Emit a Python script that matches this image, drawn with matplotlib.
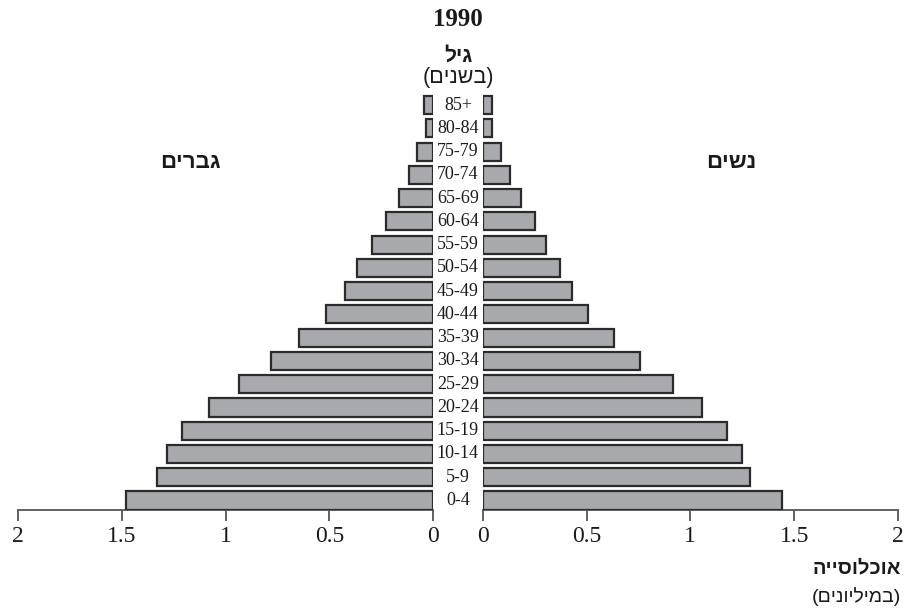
import matplotlib
matplotlib.use("Agg")
import matplotlib.pyplot as plt

BAR_FILL = "#a8a9ad"
BAR_EDGE = "#2b2b2b"
INK = "#1a1a1a"
SERIF = ["Liberation Serif", "DejaVu Serif"]
HEB = ["Liberation Sans", "DejaVu Sans"]

# data (millions), youngest first
ages = ["0-4", "5-9", "10-14", "15-19", "20-24", "25-29", "30-34", "35-39", "40-44",
        "45-49", "50-54", "55-59", "60-64", "65-69", "70-74", "75-79", "80-84", "85+"]
men = [1.48, 1.33, 1.28, 1.21, 1.08, 0.935, 0.78, 0.645, 0.515,
       0.424, 0.366, 0.295, 0.228, 0.165, 0.114, 0.076, 0.034, 0.045]
women = [1.439, 1.286, 1.248, 1.177, 1.055, 0.916, 0.759, 0.633, 0.505,
         0.429, 0.373, 0.305, 0.254, 0.185, 0.132, 0.087, 0.043, 0.046]
xticks = [0, 0.5, 1, 1.5, 2]
xticklabels = ["0", "0.5", "1", "1.5", "2"]


def vis(s):
    # matplotlib has no bidi: reverse hebrew to visual order and mirror brackets
    swap = {"(": ")", ")": "("}
    return "".join(swap.get(c, c) for c in reversed(s))


fig = plt.figure(figsize=(9.24, 6.11), dpi=100)
fig.patch.set_facecolor("white")

ax_l = fig.add_axes([18 / 924, 0.1656, 415 / 924, 0.6815])
ax_r = fig.add_axes([482.7 / 924, 0.1656, 415.3 / 924, 0.6815])

ypos = list(range(len(ages)))
ax_l.barh(ypos, men, height=0.78, color=BAR_FILL, edgecolor=BAR_EDGE, linewidth=1.6, zorder=3)
ax_r.barh(ypos, women, height=0.78, color=BAR_FILL, edgecolor=BAR_EDGE, linewidth=1.6, zorder=3)

ax_l.set_xlim(2, 0)
ax_r.set_xlim(0, 2)
for ax in (ax_l, ax_r):
    ax.set_ylim(-0.4, 17.5)
    ax.set_yticks([])
    for s in ("top", "left", "right"):
        ax.spines[s].set_visible(False)
    ax.spines["bottom"].set_color("#555555")
    ax.spines["bottom"].set_linewidth(1.3)
    ax.set_xticks(xticks)
    ax.set_xticklabels(xticklabels, family=SERIF, fontsize=17, color=INK)
    ax.tick_params(axis="x", direction="out", length=8, width=1.3, color="#555555", pad=4)
    ax.patch.set_alpha(0)

# age group labels between the two halves
for i, lbl in enumerate(ages):
    ax_l.text(-0.12, i, lbl, ha="center", va="center", family=SERIF, fontsize=13, color=INK)

fig.text(458 / 924, 1 - 20 / 611, "1990", ha="center", va="center",
         family=SERIF, fontsize=18, fontweight="bold", color=INK)
fig.text(458 / 924, 1 - 56 / 611, vis("גיל"), ha="center", va="center",
         family=HEB, fontsize=15, fontweight="bold", color=INK)
fig.text(458 / 924, 1 - 78 / 611, vis("(בשנים)"), ha="center", va="center",
         family=HEB, fontsize=15.5, color=INK)
fig.text(190 / 924, 1 - 163 / 611, vis("גברים"), ha="center", va="center",
         family=HEB, fontsize=16, fontweight="bold", color=INK)
fig.text(731 / 924, 1 - 163 / 611, vis("נשים"), ha="center", va="center",
         family=HEB, fontsize=16, fontweight="bold", color=INK)
fig.text(901 / 924, 1 - 568 / 611, vis("אוכלוסייה"), ha="right", va="center",
         family=HEB, fontsize=14.5, fontweight="bold", color=INK)
fig.text(901 / 924, 1 - 597 / 611, vis("(במיליונים)"), ha="right", va="center",
         family=HEB, fontsize=14, color=INK)

fig.savefig("out.png", dpi=100, facecolor="white")
